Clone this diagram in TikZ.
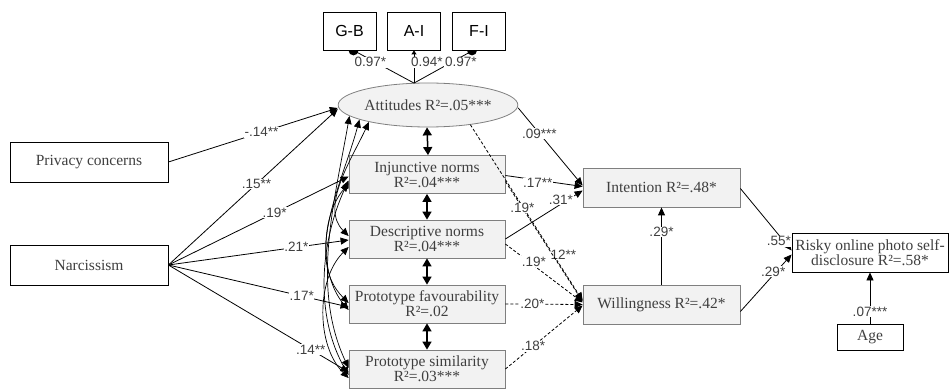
\documentclass[tikz,border=0pt]{standalone}
\usepackage{fontspec}
\setmainfont{Liberation Serif}
\setsansfont{Liberation Sans}
\usepackage{tikz}
\usetikzlibrary{arrows.meta,shapes.geometric}
\definecolor{boxgrey}{HTML}{F2F2F2}
\definecolor{edgegrey}{HTML}{7F7F7F}
\definecolor{txtgrey}{HTML}{3F3F3F}

\begin{document}
\begin{tikzpicture}[x=1pt,y=1pt,
    obsbox/.style={draw=black, line width=0.8pt, fill=white, text=txtgrey, align=center,
      inner sep=0pt, font=\fontsize{15.5}{15}\selectfont},
    latbox/.style={draw=edgegrey, line width=0.8pt, fill=boxgrey, text=txtgrey, align=center,
      inner sep=0pt, minimum width=156pt, minimum height=38pt, font=\fontsize{15.5}{15}\selectfont},
    itembox/.style={draw=black, line width=0.8pt, fill=white, inner sep=0pt,
      minimum width=53pt, minimum height=38pt, font=\sffamily\fontsize{16}{16}\selectfont},
    lbl/.style={fill=white, inner sep=0.6pt, text=txtgrey, font=\sffamily\fontsize{13.5}{14}\selectfont},
    path/.style={line width=0.8pt, -{Triangle[length=8pt,width=7pt]}},
    dpath/.style={path, dash pattern=on 3pt off 2pt},
    corr/.style={line width=0.7pt, looseness=0.9, {Triangle[length=8pt,width=7pt]}-{Triangle[length=8pt,width=7pt]}},
    vcorr/.style={line width=1.5pt, {Triangle[length=8pt,width=9pt]}-{Triangle[length=8pt,width=9pt]}}]
  \useasboundingbox (0,0) rectangle (950,-390);

  \node[obsbox, minimum width=158pt, minimum height=40pt] (privacy) at (89,-162) {Privacy concerns};
  \node[obsbox, minimum width=158pt, minimum height=40pt] (narc) at (89,-265) {Narcissism};

  \node[ellipse, draw=edgegrey, line width=0.8pt, fill=boxgrey, text=txtgrey, inner sep=0pt,
    minimum width=156pt, minimum height=44pt, font=\fontsize{15.5}{15}\selectfont] (att) at (428,-105) {Attitudes R²=.05***};
  \node[latbox] (inj) at (427,-174.5) {Injunctive norms\\R²=.04***};
  \node[latbox] (desc) at (427,-239) {Descriptive norms\\R²=.04***};
  \node[latbox] (fav) at (427,-304) {Prototype favourability\\R²=.02};
  \node[latbox] (sim) at (427,-369) {Prototype similarity\\R²=.03***};

  \node[latbox, minimum width=157pt, minimum height=39pt] (intent) at (661.5,-187.5) {Intention R²=.48*};
  \node[latbox, minimum width=157pt, minimum height=39pt] (will) at (661.5,-304.5) {Willingness R²=.42*};
  \node[obsbox, minimum width=156pt, minimum height=39pt] (risky) at (870,-252.5) {Risky online photo self-\\disclosure R²=.58*};
  \node[obsbox, minimum width=66pt, minimum height=26pt] (age) at (870,-337) {Age};

  \node[itembox] (gb) at (349.5,-31) {G-B};
  \node[itembox] (ai) at (414,-31) {A-I};
  \node[itembox] (fi) at (479,-31) {F-I};

  \coordinate (atttop) at ([xshift=-14pt,yshift=-0.5pt]att.north);
  \draw[line width=0.8pt] (atttop) -- node[lbl, pos=0.64, xshift=-5pt] {0.97*} ([xshift=4pt]gb.south);
  \draw[line width=0.8pt, -{Triangle[length=4pt,width=5pt]}] (atttop) -- node[lbl, pos=0.64, anchor=west, xshift=-4pt] {0.94*} (ai.south);
  \draw[line width=0.8pt] (atttop) -- node[lbl, pos=0.64, xshift=9pt] {0.97*} ([xshift=-6pt]fi.south);
  \fill ([xshift=-1pt]gb.south) arc[start angle=180, end angle=360, radius=5pt];
  \fill ([xshift=-12pt]fi.south) arc[start angle=180, end angle=360, radius=5pt];

  \draw[path] (privacy.east) -- node[lbl, pos=0.55] {-.14**} ([yshift=-3pt]att.west);
  \draw[path] (narc.east) -- node[lbl, pos=0.52] {.15**} ([yshift=-4pt]att.west);
  \draw[path] (narc.east) -- node[lbl, pos=0.59] {.19*} ([yshift=-2pt]inj.west);
  \draw[path] (narc.east) -- node[lbl, pos=0.71] {.21*} ([yshift=-1pt]desc.west);
  \draw[path] (narc.east) -- node[lbl, pos=0.74] {.17*} ([yshift=-3pt]fav.west);
  \draw[path] (narc.east) -- node[lbl, pos=0.79] {.14**} ([yshift=-3pt]sim.west);

  \draw[corr] (att.196) to[out=245,in=135] ([yshift=3pt]desc.west);
  \draw[corr] (att.192) to[out=255,in=135] ([yshift=1pt]fav.west);
  \draw[corr] (att.188) to[out=260,in=115] ([yshift=1pt]sim.west);
  \draw[corr] ([yshift=-9pt]inj.west) to[out=230,in=130] ([yshift=-6pt]fav.west);
  \draw[corr] ([yshift=-6pt]inj.west) to[out=245,in=120] ([yshift=-6pt]sim.west);
  \draw[corr] ([yshift=-8pt]desc.west) to[out=225,in=135] ([yshift=-9pt]sim.west);

  \draw[vcorr] ([xshift=-1pt]att.south) -- ([xshift=1pt]inj.north);
  \draw[vcorr] (inj.south) -- (desc.north);
  \draw[vcorr] (desc.south) -- (fav.north);
  \draw[vcorr] (fav.south) -- (sim.north);

  \draw[path] ([yshift=-3pt]att.east) -- node[lbl, pos=0.33] {.09***} ([yshift=2pt]intent.west);
  \draw[dpath] (att.335) -- node[lbl, pos=0.74, xshift=10pt] {12**} ([yshift=4pt]will.west);
  \draw[path] ([yshift=-1pt]inj.east) -- node[lbl, pos=0.42, yshift=-3pt] {.17**} ([yshift=1pt]intent.west);
  \draw[dpath] ([yshift=-7pt]inj.east) -- node[lbl, pos=0.22] {.19*} ([yshift=3pt]will.west);
  \draw[path] (desc.east) -- node[lbl, pos=0.72, yshift=4pt] {.31*} ([yshift=-3pt]intent.west);
  \draw[dpath] ([yshift=-5pt]desc.east) -- node[lbl, pos=0.37, yshift=4pt] {.19*} ([yshift=2pt]will.west);
  \draw[dpath] (fav.east) -- node[lbl, pos=0.35] {.20*} (will.west);
  \draw[dpath] (sim.east) -- node[lbl, pos=0.36] {.18*} ([yshift=-1pt]will.west);

  \draw[path] (will.north) -- node[lbl, pos=0.68] {.29*} (intent.north |- intent.south);
  \draw[path] ([yshift=-1pt]intent.east) -- node[lbl, pos=0.85, xshift=-5pt] {.55*} ([yshift=2pt]risky.west);
  \draw[path] ([yshift=-7pt]will.east) -- node[lbl, pos=0.7, xshift=-3pt] {.29*} ([yshift=-2pt]risky.west);
  \draw[path] (age.north) -- node[lbl, pos=0.23] {.07***} (risky.south);
\end{tikzpicture}
\end{document}
